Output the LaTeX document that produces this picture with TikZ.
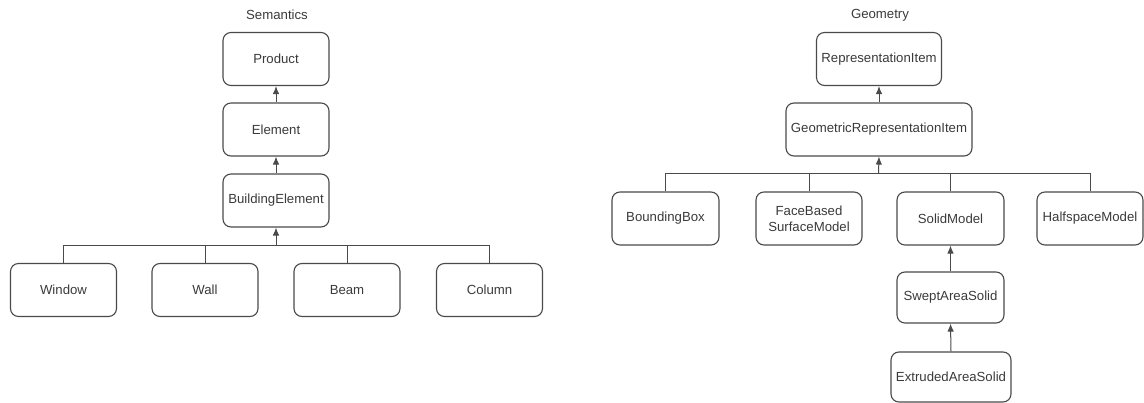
\documentclass[tikz,border=0pt]{standalone}
\usepackage{fontspec}
\setmainfont{Liberation Sans}
\usetikzlibrary{arrows.meta}
\definecolor{ink}{HTML}{3A3A3A}
\definecolor{edge}{HTML}{4A4A4A}
\tikzset{
  box/.style={draw=edge, line width=1.1pt, rounded corners=8pt, inner sep=0pt,
    minimum width=106pt, minimum height=53pt, text=ink, align=center,
    font=\fontsize{13.2}{15.6}\selectfont},
  title/.style={text=ink, font=\fontsize{13.2}{15.6}\selectfont, inner sep=0pt},
  link/.style={draw=edge, line width=1pt},
  arr/.style={link, -{Latex[length=8pt,width=6.5pt]}}
}
\begin{document}
\begin{tikzpicture}[x=1pt,y=-1pt]
\useasboundingbox (0,0) rectangle (1144,403);

% ---- Semantics hierarchy ----
\node[title] (stitle) at (277,15) {Semantics};
\node[box] (product) at (276,59) {Product};
\node[box] (element) at (276,129.5) {Element};
\node[box] (belem) at (276,200.5) {BuildingElement};
\node[box] (window) at (63.5,290) {Window};
\node[box] (wall) at (205,290) {Wall};
\node[box] (beam) at (347,290) {Beam};
\node[box] (column) at (489.5,290) {Column};
\coordinate (sbar) at (276,246);

\draw[arr] (element.north) -- (product.south);
\draw[arr] (belem.north) -- (element.south);
\draw[link] (window.north) |- (sbar);
\draw[link] (wall.north) |- (sbar);
\draw[link] (beam.north) |- (sbar);
\draw[link] (column.north) |- (sbar);
\draw[arr] (sbar) -- (belem.south);

% ---- Geometry hierarchy ----
\node[title] (gtitle) at (880,15) {Geometry};
\node[box, minimum width=125pt] (repitem) at (879,59) {RepresentationItem};
\node[box, minimum width=186pt] (gri) at (879,129.5) {GeometricRepresentationItem};
\node[box, minimum width=107pt] (bbox) at (665.5,218.5) {BoundingBox};
\node[box] (fbsm) at (809,218.5) {FaceBased\\SurfaceModel};
\node[box, minimum width=107pt] (solid) at (950.5,218.5) {SolidModel};
\node[box] (half) at (1090,218.5) {HalfspaceModel};
\node[box, minimum width=107pt, minimum height=51pt] (swept) at (950.5,297.5) {SweptAreaSolid};
\node[box, minimum width=120pt, minimum height=50pt] (extr) at (951,377) {ExtrudedAreaSolid};
\coordinate (gbar) at (878.5,174);

\draw[arr] (gri.north) -- (repitem.south);
\draw[link] (bbox.north) |- (gbar);
\draw[link] (fbsm.north) |- (gbar);
\draw[link] (solid.north) |- (gbar);
\draw[link] (half.north) |- (gbar);
\draw[arr] (gbar) -- (gri.south);
\draw[arr] (swept.north) -- (solid.south);
\draw[arr] (extr.north) -- (swept.south);
\end{tikzpicture}
\end{document}
